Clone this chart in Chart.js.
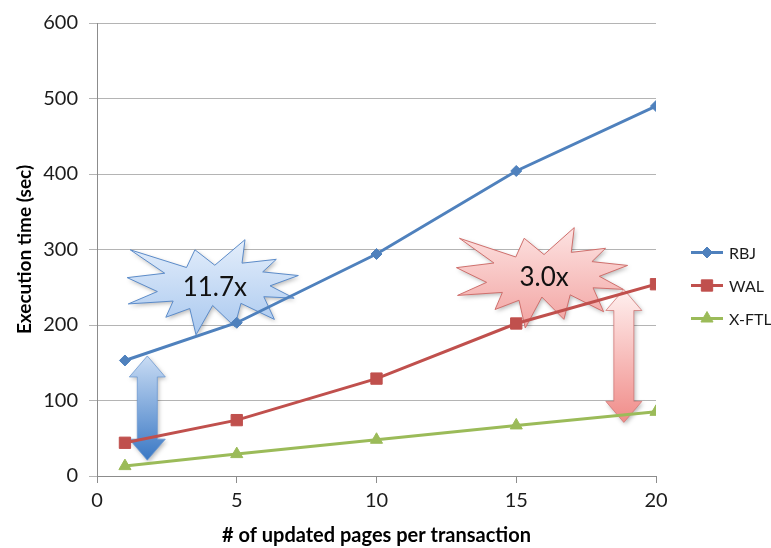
<!DOCTYPE html>
<html>
<head>
<meta charset="utf-8">
<title>Execution time vs. updated pages per transaction</title>
<script src="https://cdn.jsdelivr.net/npm/chart.js@4/dist/chart.umd.min.js"></script>
<style>
  html, body { margin: 0; padding: 0; background: #ffffff; }
  #wrap { width: 771px; height: 548px; }
</style>
</head>
<body>
<div id="wrap"><canvas id="chart" width="771" height="548"></canvas></div>
<script>
// ---- data -------------------------------------------------------------
const pagesPerTx = [1, 5, 10, 15, 20];
const rbjTime    = [153, 203, 294, 404, 490];
const walTime    = [44, 74, 129, 202, 254];
const xftlTime   = [13.1, 29, 48, 67, 85];
const seriesNames = ['RBJ', 'WAL', 'X-FTL'];
const xTickValues = [0, 5, 10, 15, 20];
const yTickValues = [0, 100, 200, 300, 400, 500, 600];
const speedupLabels = ['11.7x', '3.0x'];

// ---- look -------------------------------------------------------------
const FONT = 'Lato, "Open Sans", sans-serif';
const TEXT = '#1c1c1c';
const GRID = '#b4b4b4';
const AXIS = '#8c8c8c';
const COLORS = ['#4f81bd', '#c0504d', '#9bbb59'];
const STYLES = ['rectRot', 'rect', 'triangle'];
const RADII = [5.5, 8, 7];

// callout placement, in axis units
const bursts = [
  { text: speedupLabels[0], x: [1.08, 7.35], y: [313, 187],
    top: '#e4eefb', bottom: '#a9c8ef', stroke: '#5b8bc9' },
  { text: speedupLabels[1], x: [12.86, 19.13], y: [329, 196],
    top: '#fde3e2', bottom: '#f2a3a1', stroke: '#cf6f6c' }
];
const gapArrows = [
  { x: 1.8, y: [159, 21], top: '#c9dcf4', bottom: '#3a78c4', stroke: '#6f9bd3' },
  { x: 18.85, y: [247, 71], top: '#fff0ef', bottom: '#f08c89', stroke: '#d27a77' }
];

// "Explosion 1" outline on a 21600 grid
const sealPts = [
  [10800,5800],[14522,0],[14155,5325],[18380,4457],[16702,7315],[21097,8137],
  [17607,10475],[20583,13290],[16837,12942],[18145,18095],[14020,14457],
  [13247,19737],[10532,14935],[8485,21600],[7715,15627],[4762,17617],
  [5667,13937],[135,14587],[3722,11775],[0,8615],[4627,7617],[370,2295],
  [7312,6320],[8352,2295]
];

function drawBurst(ctx, b, xs, ys) {
  const x0 = xs.getPixelForValue(b.x[0]), x1 = xs.getPixelForValue(b.x[1]);
  const y0 = ys.getPixelForValue(b.y[0]), y1 = ys.getPixelForValue(b.y[1]);
  const w = x1 - x0, h = y1 - y0;
  ctx.save();
  ctx.beginPath();
  sealPts.forEach((p, i) => {
    const px = x0 + p[0] / 21600 * w, py = y0 + p[1] / 21600 * h;
    if (i === 0) ctx.moveTo(px, py); else ctx.lineTo(px, py);
  });
  ctx.closePath();
  const g = ctx.createLinearGradient(0, y0, 0, y1);
  g.addColorStop(0, b.top);
  g.addColorStop(1, b.bottom);
  ctx.shadowColor = 'rgba(0,0,0,0.28)';
  ctx.shadowBlur = 4;
  ctx.shadowOffsetX = 1.5;
  ctx.shadowOffsetY = 2;
  ctx.fillStyle = g;
  ctx.fill();
  ctx.shadowColor = 'transparent';
  ctx.lineWidth = 1;
  ctx.strokeStyle = b.stroke;
  ctx.stroke();
  ctx.fillStyle = '#111111';
  ctx.font = '26px ' + FONT;
  ctx.textAlign = 'center';
  ctx.textBaseline = 'middle';
  ctx.fillText(b.text, x0 + w / 2, y0 + h / 2);
  ctx.restore();
}

function drawArrow(ctx, a, xs, ys) {
  const cx = xs.getPixelForValue(a.x);
  const yt = ys.getPixelForValue(a.y[0]), yb = ys.getPixelForValue(a.y[1]);
  const hw = 18, sw = 10, hl = 21;
  ctx.save();
  ctx.beginPath();
  ctx.moveTo(cx, yt);
  ctx.lineTo(cx + hw, yt + hl);
  ctx.lineTo(cx + sw, yt + hl);
  ctx.lineTo(cx + sw, yb - hl);
  ctx.lineTo(cx + hw, yb - hl);
  ctx.lineTo(cx, yb);
  ctx.lineTo(cx - hw, yb - hl);
  ctx.lineTo(cx - sw, yb - hl);
  ctx.lineTo(cx - sw, yt + hl);
  ctx.lineTo(cx - hw, yt + hl);
  ctx.closePath();
  const g = ctx.createLinearGradient(0, yt, 0, yb);
  g.addColorStop(0, a.top);
  g.addColorStop(1, a.bottom);
  ctx.shadowColor = 'rgba(0,0,0,0.28)';
  ctx.shadowBlur = 4;
  ctx.shadowOffsetX = 1.5;
  ctx.shadowOffsetY = 2;
  ctx.fillStyle = g;
  ctx.fill();
  ctx.shadowColor = 'transparent';
  ctx.lineWidth = 0.8;
  ctx.strokeStyle = a.stroke;
  ctx.stroke();
  ctx.restore();
}

const calloutPlugin = {
  id: 'callouts',
  beforeDatasetsDraw(chart) {
    const { ctx, scales } = chart;
    bursts.forEach(b => drawBurst(ctx, b, scales.x, scales.y));
    gapArrows.forEach(a => drawArrow(ctx, a, scales.x, scales.y));
  }
};

// line-with-marker legend at the right of the plot
const sideLegend = {
  id: 'sideLegend',
  afterDraw(chart) {
    const { ctx, chartArea } = chart;
    const x0 = chartArea.right + 35, x1 = x0 + 32, tx = x1 + 6;
    const midY = (chartArea.top + chartArea.bottom) / 2 + 36;
    const step = 33;
    chart.data.datasets.forEach((ds, i) => {
      const y = midY + (i - 1) * step;
      ctx.save();
      ctx.strokeStyle = ds.borderColor;
      ctx.lineWidth = 3;
      ctx.beginPath();
      ctx.moveTo(x0, y);
      ctx.lineTo(x1, y);
      ctx.stroke();
      ctx.fillStyle = ds.backgroundColor;
      ctx.strokeStyle = ds.borderColor;
      ctx.lineWidth = 1;
      Chart.helpers.drawPoint(ctx, {
        pointStyle: ds.pointStyle, radius: ds.pointRadius, rotation: 0, borderWidth: 1
      }, (x0 + x1) / 2, y);
      ctx.fillStyle = TEXT;
      ctx.font = '16px ' + FONT;
      ctx.textAlign = 'left';
      ctx.textBaseline = 'middle';
      ctx.fillText(ds.label, tx, y + 1);
      ctx.restore();
    });
  }
};

const seriesValues = [rbjTime, walTime, xftlTime];
const datasets = seriesValues.map((vals, i) => ({
  label: seriesNames[i],
  data: pagesPerTx.map((x, j) => ({ x, y: vals[j] })),
  borderColor: COLORS[i],
  backgroundColor: COLORS[i],
  borderWidth: 3,
  pointStyle: STYLES[i],
  pointRadius: RADII[i],
  pointHoverRadius: RADII[i],
  pointBorderWidth: 1,
  tension: 0
}));

new Chart(document.getElementById('chart'), {
  type: 'line',
  data: { datasets },
  options: {
    responsive: false,
    animation: false,
    layout: { padding: { left: 0, right: 115, top: 18, bottom: 0 } },
    plugins: {
      legend: { display: false },
      tooltip: { enabled: false }
    },
    scales: {
      x: {
        type: 'linear',
        min: 0, max: 20,
        afterBuildTicks(s) { s.ticks = xTickValues.map(v => ({ value: v })); },
        afterFit(s) { s.height = 72; },
        border: { display: true, color: AXIS, width: 1 },
        grid: { drawOnChartArea: false, drawTicks: true, tickLength: 7, color: AXIS },
        ticks: { color: TEXT, font: { family: FONT, size: 20 }, padding: 6, maxRotation: 0 },
        title: {
          display: true,
          text: '# of updated pages per transaction',
          color: '#000000',
          font: { family: FONT, size: 20, weight: 'bold' },
          padding: { top: 0, bottom: 0 }
        }
      },
      y: {
        min: 0, max: 600,
        afterBuildTicks(s) { s.ticks = yTickValues.map(v => ({ value: v })); },
        afterFit(s) { s.width = 97; },
        border: { display: true, color: AXIS, width: 1 },
        grid: { color: GRID, lineWidth: 1, drawTicks: true, tickLength: 8 },
        ticks: { color: TEXT, font: { family: FONT, size: 20 }, padding: 11 },
        title: {
          display: true,
          text: 'Execution time (sec)',
          color: '#000000',
          font: { family: FONT, size: 19, weight: 'bold' },
          padding: { top: 13, bottom: 0 }
        }
      }
    }
  },
  plugins: [calloutPlugin, sideLegend]
});
</script>
</body>
</html>
